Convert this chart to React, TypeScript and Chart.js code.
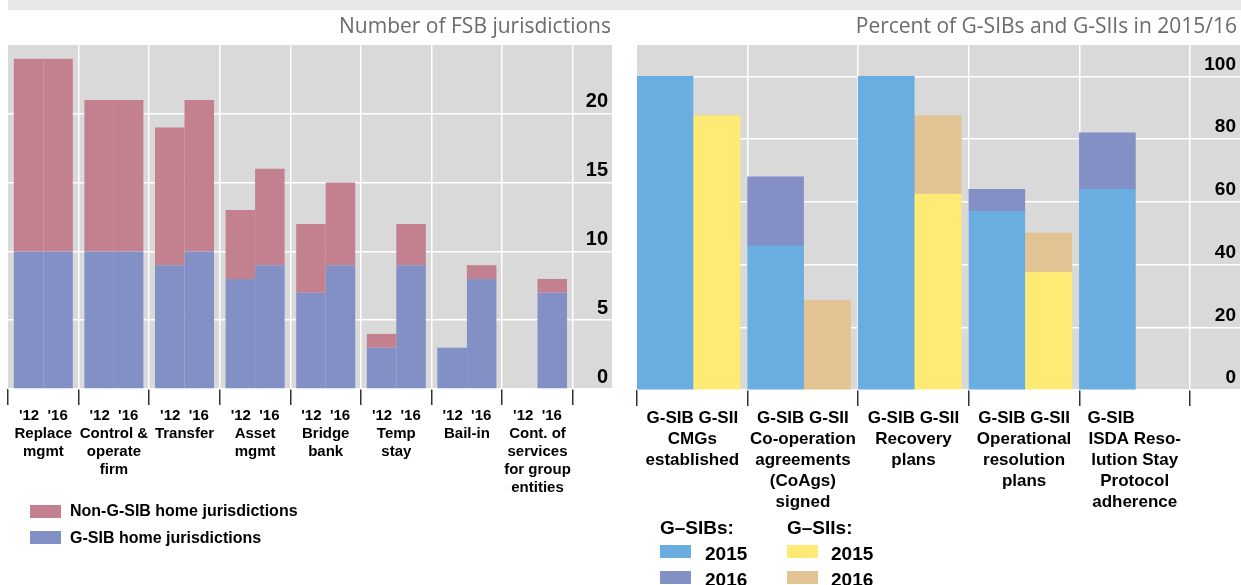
import React, { useEffect, useRef } from "react";
import { Chart, registerables } from "chart.js";

Chart.register(...registerables);

// ---------- Left panel: number of FSB jurisdictions ----------
const fsbCategories: string[][] = [
  ["Replace", "mgmt"],
  ["Control &", "operate", "firm"],
  ["Transfer"],
  ["Asset", "mgmt"],
  ["Bridge", "bank"],
  ["Temp", "stay"],
  ["Bail-in"],
  ["Cont. of", "services", "for group", "entities"],
];
const fsbYearLine = "'12  '16";
const fsbGsib2012 = [10, 10, 9, 8, 7, 3, 3, 0];
const fsbNonGsib2012 = [14, 11, 10, 5, 5, 1, 0, 0];
const fsbGsib2016 = [10, 10, 10, 9, 9, 9, 8, 7];
const fsbNonGsib2016 = [14, 11, 11, 7, 6, 3, 1, 1];
const fsbYTicks = [0, 5, 10, 15, 20];
const fsbYMax = 25;

// ---------- Right panel: percent of G-SIBs and G-SIIs ----------
const measureCategories: string[][] = [
  ["CMGs", "established"],
  ["Co-operation", "agreements", "(CoAgs)", "signed"],
  ["Recovery", "plans"],
  ["Operational", "resolution", "plans"],
  ["ISDA Reso-", "lution Stay", "Protocol", "adherence"],
];
const measureGroupLine = [
  "G-SIB G-SII",
  "G-SIB G-SII",
  "G-SIB G-SII",
  "G-SIB G-SII",
  "G-SIB          ",
];
const gsib2015 = [100, 46, 100, 57, 64];
const gsib2016 = [100, 68, 100, 64, 82];
const gsii2015 = [87.5, 0, 62.5, 37.5, null];
const gsii2016 = [87.5, 28.5, 87.5, 50, null];
const pctYTicks = [0, 20, 40, 60, 80, 100];
const pctYMax = 110;

const C = {
  pink: "#c3808f",
  purple: "#8290c6",
  blue: "#6aade1",
  yellow: "#ffea75",
  tan: "#e2c393",
  plot: "#d9d9d9",
  band: "#e8e8e8",
};

const FONT = "'Liberation Sans', Arial, Helvetica, sans-serif";
const TITLE_FONT = "'Open Sans', 'Noto Sans', sans-serif";

const plotBackground = {
  id: "plotBackground",
  beforeDraw(chart: any) {
    const { ctx, chartArea: a } = chart;
    ctx.save();
    ctx.fillStyle = C.plot;
    ctx.fillRect(a.left, a.top, a.right - a.left, a.bottom - a.top);
    ctx.restore();
  },
};

const pts = (vals: (number | null)[]) => vals.map((y, x) => ({ x, y }));
const diff = (a: (number | null)[], b: (number | null)[]) =>
  a.map((v, i) => (v == null || b[i] == null ? null : (v as number) - (b[i] as number)));

function LeftChart() {
  const ref = useRef<HTMLCanvasElement>(null);
  useEffect(() => {
    const xMax = fsbCategories.length - 0.5 + 0.555;
    const chart = new Chart(ref.current as HTMLCanvasElement, {
      type: "bar",
      data: {
        datasets: [
          { label: "G-SIB home jurisdictions", data: pts(fsbGsib2012), backgroundColor: C.purple, stack: "s12" },
          { label: "Non-G-SIB home jurisdictions", data: pts(fsbNonGsib2012), backgroundColor: C.pink, stack: "s12" },
          { label: "G-SIB home jurisdictions", data: pts(fsbGsib2016), backgroundColor: C.purple, stack: "s16" },
          { label: "Non-G-SIB home jurisdictions", data: pts(fsbNonGsib2016), backgroundColor: C.pink, stack: "s16" },
        ] as any,
      },
      options: {
        responsive: false,
        animation: false,
        devicePixelRatio: 1,
        layout: { padding: { top: 45, left: 8, right: 8, bottom: 0 } },
        plugins: { legend: { display: false }, tooltip: { enabled: false } },
        datasets: { bar: { categoryPercentage: 0.836, barPercentage: 1 } },
        scales: {
          x: {
            type: "linear",
            offset: false,
            min: -0.5,
            max: xMax,
            border: { display: false },
            grid: {
              offset: true,
              color: (ctx: any) => (ctx.index === 0 ? "rgba(0,0,0,0)" : "#ffffff"),
              lineWidth: 1.5,
              tickColor: "#333333",
              tickWidth: 1.5,
              tickLength: 16,
            },
            afterBuildTicks: (s: any) => {
              s.ticks = fsbCategories.map((_, i) => ({ value: i }));
            },
            afterFit: (s: any) => {
              s.height = 131;
            },
            ticks: {
              autoSkip: false,
              maxRotation: 0,
              minRotation: 0,
              padding: 2,
              color: "#000",
              font: { family: FONT, size: 15, weight: "bold", lineHeight: "18px" },
              callback: (_v: any, i: number) => [fsbYearLine, ...fsbCategories[i]],
            },
          },
          y: {
            type: "linear",
            position: "right",
            stacked: true,
            min: 0,
            max: fsbYMax,
            border: { display: false },
            grid: { color: "#ffffff", lineWidth: 1.5, drawTicks: false },
            afterBuildTicks: (s: any) => {
              s.ticks = fsbYTicks.map((v) => ({ value: v }));
            },
            afterFit: (s: any) => {
              s.width = 0;
            },
            ticks: {
              mirror: true,
              padding: -4,
              labelOffset: -12,
              color: "#000",
              font: { family: FONT, size: 20, weight: "bold" },
            },
          },
        },
      } as any,
      plugins: [plotBackground],
    });
    return () => chart.destroy();
  }, []);
  return <canvas ref={ref} width={620} height={520} style={{ position: "absolute", left: 0, top: 0 }} />;
}

function RightChart() {
  const ref = useRef<HTMLCanvasElement>(null);
  useEffect(() => {
    const xMax = measureCategories.length - 0.5 + 0.452;
    const sibShift = 0.247; // G-SIB bar sits left of category centre
    const siiShift = -0.219; // G-SII bar sits right of category centre
    const sib = { xAxisID: "xSib", stack: "sib", barThickness: 56, grouped: false };
    const sii = { xAxisID: "xSii", stack: "sii", barThickness: 47, grouped: false };
    const chart = new Chart(ref.current as HTMLCanvasElement, {
      type: "bar",
      data: {
        datasets: [
          { label: "G-SIBs 2015", data: pts(gsib2015), backgroundColor: C.blue, ...sib },
          { label: "G-SIBs 2016", data: pts(diff(gsib2016, gsib2015)), backgroundColor: C.purple, ...sib },
          { label: "G-SIIs 2015", data: pts(gsii2015), backgroundColor: C.yellow, ...sii },
          { label: "G-SIIs 2016", data: pts(diff(gsii2016, gsii2015)), backgroundColor: C.tan, ...sii },
        ] as any,
      },
      options: {
        responsive: false,
        animation: false,
        devicePixelRatio: 1,
        layout: { padding: { top: 45, left: 17, right: 1, bottom: 0 } },
        plugins: { legend: { display: false }, tooltip: { enabled: false } },
        scales: {
          x: {
            type: "linear",
            offset: false,
            min: -0.5,
            max: xMax,
            border: { display: false },
            grid: {
              offset: true,
              color: (ctx: any) => (ctx.index === 0 ? "rgba(0,0,0,0)" : "#ffffff"),
              lineWidth: 1.5,
              tickColor: "#333333",
              tickWidth: 1.5,
              tickLength: 16,
            },
            afterBuildTicks: (s: any) => {
              s.ticks = measureCategories.map((_, i) => ({ value: i }));
            },
            afterFit: (s: any) => {
              s.height = 130;
            },
            ticks: {
              autoSkip: false,
              maxRotation: 0,
              minRotation: 0,
              padding: 2,
              color: "#000",
              font: { family: FONT, size: 17, weight: "bold", lineHeight: "21px" },
              callback: (_v: any, i: number) => [measureGroupLine[i], ...measureCategories[i]],
            },
          },
          xSib: { type: "linear", display: false, offset: false, stacked: true, bounds: "data", min: -0.5 + sibShift, max: xMax + sibShift },
          xSii: { type: "linear", display: false, offset: false, stacked: true, bounds: "data", min: -0.5 + siiShift, max: xMax + siiShift },
          y: {
            type: "linear",
            position: "right",
            stacked: true,
            min: 0,
            max: pctYMax,
            border: { display: false },
            grid: { color: "#ffffff", lineWidth: 1.5, drawTicks: false },
            afterBuildTicks: (s: any) => {
              s.ticks = pctYTicks.map((v) => ({ value: v }));
            },
            afterFit: (s: any) => {
              s.width = 0;
            },
            ticks: {
              mirror: true,
              padding: -4,
              labelOffset: -12,
              color: "#000",
              font: { family: FONT, size: 19, weight: "bold" },
            },
          },
        },
      } as any,
      plugins: [plotBackground],
    });
    return () => chart.destroy();
  }, []);
  return <canvas ref={ref} width={621} height={520} style={{ position: "absolute", left: 620, top: 0 }} />;
}

const abs = (left: number, top: number, extra: React.CSSProperties = {}): React.CSSProperties => ({
  position: "absolute",
  left,
  top,
  ...extra,
});

function Swatch({ left, top, color }: { left: number; top: number; color: string }) {
  return <div style={abs(left, top, { width: 31, height: 13, background: color })} />;
}

function Txt({ left, cy, size, children }: { left: number; cy: number; size: number; children: React.ReactNode }) {
  return (
    <div
      style={abs(left, cy, {
        transform: "translateY(-50%)",
        fontFamily: FONT,
        fontWeight: "bold",
        fontSize: size,
        lineHeight: 1,
        whiteSpace: "nowrap",
        color: "#000",
      })}
    >
      {children}
    </div>
  );
}

const titleStyle = (right: number): React.CSSProperties => ({
  position: "absolute",
  right,
  top: 25,
  transform: "translateY(-50%)",
  fontFamily: TITLE_FONT,
  fontSize: 21,
  lineHeight: 1,
  color: "#6b6b6b",
  whiteSpace: "nowrap",
});

export default function App() {
  return (
    <div style={abs(0, 0, { width: 1241, height: 585, overflow: "hidden", background: "#fff" })}>
      <div style={abs(8, 0, { width: 1233, height: 10, background: C.band })} />
      <LeftChart />
      <RightChart />
      <div style={titleStyle(1241 - 611)}>Number of FSB jurisdictions</div>
      <div style={titleStyle(1241 - 1237)}>Percent of G-SIBs and G-SIIs in 2015/16</div>
      {/* left legend */}
      <Swatch left={30} top={505} color={C.pink} />
      <Txt left={70} cy={511} size={16}>Non-G-SIB home jurisdictions</Txt>
      <Swatch left={30} top={531} color={C.purple} />
      <Txt left={70} cy={538} size={16}>G-SIB home jurisdictions</Txt>
      {/* right legend */}
      <Txt left={660} cy={527} size={19}>G–SIBs:</Txt>
      <Txt left={787} cy={527} size={19}>G–SIIs:</Txt>
      <Swatch left={660} top={545} color={C.blue} />
      <Txt left={705} cy={553} size={19}>2015</Txt>
      <Swatch left={787} top={545} color={C.yellow} />
      <Txt left={831} cy={553} size={19}>2015</Txt>
      <Swatch left={660} top={571} color={C.purple} />
      <Txt left={705} cy={579} size={19}>2016</Txt>
      <Swatch left={787} top={571} color={C.tan} />
      <Txt left={831} cy={579} size={19}>2016</Txt>
    </div>
  );
}
